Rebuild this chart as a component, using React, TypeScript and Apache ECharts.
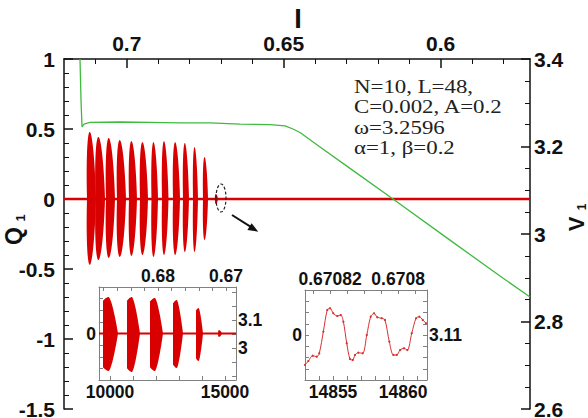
import React, { useEffect, useRef } from "react";
import * as echarts from "echarts";

const RED = "#d80000";
const GREEN = "#3fba3f";
const FRAME = "#808080";

// ---------- main plot (x = I, inverted) ----------
const I_MIN = 0.5715;
const I_MAX = 0.72;
const topMajorTicks = [0.6, 0.65, 0.7];
const topMinorTicks = [0.58, 0.59, 0.61, 0.62, 0.63, 0.64, 0.66, 0.67, 0.68, 0.69, 0.71];

// oscillation packets of Q1 in the main plot: start I, end I, upper and lower envelope
const lobeStartI = [0.71267, 0.70996, 0.70662, 0.70311, 0.69929, 0.69578, 0.69212, 0.68877, 0.68526, 0.68208, 0.67889, 0.6757, 0.67188];
const lobeEndI = [0.7098, 0.70693, 0.70375, 0.70024, 0.69674, 0.69323, 0.69004, 0.6867, 0.68303, 0.68017, 0.6773, 0.67411, 0.67093];
const lobeTop = [0.479, 0.443, 0.436, 0.421, 0.414, 0.407, 0.407, 0.414, 0.407, 0.4, 0.371, 0.3, 0.035];
const lobeBottom = [-0.47, -0.436, -0.421, -0.414, -0.407, -0.4, -0.414, -0.4, -0.4, -0.379, -0.379, -0.293, -0.035];

// V1 (green) vs I
const greenI = [0.7149, 0.71458, 0.71426, 0.71363, 0.71171, 0.70215, 0.69259, 0.68303, 0.67347, 0.66391, 0.65435, 0.64957, 0.64702, 0.64479, 0.63842, 0.62886, 0.61516, 0.597, 0.58106, 0.5715];
const greenV = [3.4, 3.306, 3.245, 3.251, 3.255, 3.256, 3.255, 3.254, 3.254, 3.251, 3.25, 3.247, 3.24, 3.232, 3.199, 3.15, 3.08, 2.986, 2.904, 2.856];

// ---------- inset 1 (x = time) ----------
const in1TMin = 9522;
const in1TMax = 15478;
const in1Start = [9696, 10739, 11739, 12739, 13739, 14700];
const in1End = [10348, 11304, 12304, 13174, 14043, 14870];
const in1Top = [0.392, 0.392, 0.382, 0.36, 0.274, 0.035];
const in1Bottom = [-0.403, -0.414, -0.403, -0.371, -0.296, -0.035];
const in1TimeLabels = [10000, 15000];
const in1TimeTicks = [10000, 11000, 12000, 13000, 14000, 15000];
const in1ILabels = [0.68, 0.67];
const in1ITicks = [0.67, 0.672, 0.674, 0.676, 0.678, 0.68, 0.682, 0.684, 0.686, 0.688];
const in1VLabels = [3, 3.1];
const in1VTicks = [2.9, 2.95, 3, 3.05, 3.1, 3.15, 3.2];

// ---------- inset 2 (x = time, zoom) ----------
const in2T = [14853.0, 14853.24, 14853.55, 14853.84, 14854.02, 14854.31, 14854.59, 14854.79, 14855.02, 14855.31, 14855.55, 14855.74, 14855.98, 14856.21, 14856.41, 14856.57, 14856.81, 14857.12, 14857.41, 14857.69, 14857.93, 14858.16, 14858.48, 14858.71, 14859.02, 14859.31, 14859.55, 14859.79, 14860.07, 14860.31, 14860.62, 14860.93, 14861.16, 14861.41, 14861.64];
const in2Q = [-0.333, -0.289, -0.23, -0.241, -0.203, 0.037, 0.278, 0.297, 0.241, 0.211, 0.222, 0.148, -0.092, -0.267, -0.278, -0.222, -0.197, -0.203, 0.0, 0.203, 0.241, 0.197, 0.186, 0.167, -0.074, -0.222, -0.222, -0.167, -0.148, -0.167, 0.019, 0.186, 0.203, 0.167, 0.13];
const in2TimeLabels = [14855, 14860];
const in2TimeTicks = [14854, 14855, 14856, 14857, 14858, 14859, 14860, 14861];
const in2ILabels = [0.67082, 0.6708];
const in2ITicks = [0.670795, 0.6708, 0.670805, 0.67081, 0.670815, 0.67082, 0.670825];
const in2VLabels = [3.11];
const in2VTicks = [3.1025, 3.105, 3.1075, 3.11, 3.1125, 3.115, 3.1175];
const insetQTicks = [-0.375, -0.25, -0.125, 0, 0.125, 0.25, 0.375];

const annotation = ["N=10, L=48,", "C=0.002, A=0.2", "\u03c9=3.2596", "\u03b1=1, \u03b2=0.2"];

const SANS = "'Liberation Sans', Arial, Helvetica, sans-serif";
const SERIF = "'Liberation Serif', 'Times New Roman', serif";

function ellipseLobe(params: any, api: any) {
  const s = api.value(0), e = api.value(1), top = api.value(2), bot = api.value(3);
  const a = api.coord([s, 0]);
  const b = api.coord([e, 0]);
  const t = api.coord([s, top]);
  const u = api.coord([s, bot]);
  const x0 = Math.min(a[0], b[0]);
  const x1 = Math.max(a[0], b[0]);
  const cy = a[1];
  const hT = cy - t[1];
  const hB = u[1] - cy;
  const cx = (x0 + x1) / 2;
  const rx = (x1 - x0) / 2;
  const shift = -0.4 * rx;
  const pts: number[][] = [];
  const N = 28;
  for (let k = 0; k <= N; k++) {
    const th = (Math.PI * k) / N;
    pts.push([cx - rx * Math.cos(th) + shift * Math.sin(th), cy - hT * Math.sin(th)]);
  }
  for (let k = 1; k < N; k++) {
    const th = (Math.PI * k) / N;
    pts.push([cx + rx * Math.cos(th) + shift * Math.sin(th), cy + hB * Math.sin(th)]);
  }
  return { type: "polygon", shape: { points: pts }, style: { fill: RED } };
}

function profile(uu: number) {
  if (uu < 0.38) return 0.9 + 0.1 * Math.sin((uu / 0.38) * (Math.PI / 2));
  return 1 - Math.pow((uu - 0.38) / 0.62, 1.5);
}

function dLobe(params: any, api: any) {
  const s = api.value(0), e = api.value(1), top = api.value(2), bot = api.value(3);
  const a = api.coord([s, 0]);
  const b = api.coord([e, 0]);
  const t = api.coord([s, top]);
  const u = api.coord([s, bot]);
  const x0 = Math.min(a[0], b[0]);
  const w = Math.abs(b[0] - a[0]);
  const cy = a[1];
  const hT = cy - t[1];
  const hB = u[1] - cy;
  const pts: number[][] = [];
  const N = 30;
  for (let k = 0; k <= N; k++) {
    const q = k / N;
    pts.push([x0 + q * w, cy - hT * profile(q)]);
  }
  for (let k = N - 1; k >= 0; k--) {
    const q = k / N;
    pts.push([x0 + q * w, cy + hB * profile(q)]);
  }
  return { type: "polygon", shape: { points: pts }, style: { fill: RED } };
}

const fmt = (d: number) => (v: number) => String(+Number(v).toFixed(d));

export default function App() {
  const ref = useRef<HTMLDivElement>(null);
  useEffect(() => {
    if (!ref.current) return;
    const chart = echarts.init(ref.current, null, { renderer: "svg" });

    const mainLobes = lobeStartI.map((s, i) => [s, lobeEndI[i], lobeTop[i], lobeBottom[i]]);
    const in1Lobes = in1Start.map((s, i) => [s, in1End[i], in1Top[i], in1Bottom[i]]);
    const green = greenI.map((x, i) => [x, greenV[i]]);
    const in2 = in2T.map((t, i) => [t, in2Q[i]]);

    const mainLabel = { fontFamily: SANS, fontWeight: "bold", fontSize: 21, color: "#111" };
    const insetLabel = { fontFamily: SANS, fontWeight: "bold", fontSize: 17.5, color: "#111" };
    const mainLine = { show: true, onZero: false, lineStyle: { color: "#111", width: 1.5 } };
    const insetLine = { show: true, onZero: false, lineStyle: { color: FRAME, width: 1 } };
    const insetTick = (vals: number[]) => ({ show: true, inside: true, length: 4, customValues: vals, lineStyle: { color: FRAME, width: 1 } });

    const option: any = {
      animation: false,
      backgroundColor: "#fff",
      grid: [
        { left: 64, top: 59, width: 466, height: 350, outerBoundsMode: "none" },
        { left: 99, top: 287, width: 137, height: 93, outerBoundsMode: "none" },
        { left: 305, top: 290, width: 122, height: 90, outerBoundsMode: "none" },
      ],
      xAxis: [
        {
          type: "value", gridIndex: 0, position: "top", min: I_MIN, max: I_MAX, inverse: true,
          axisLine: mainLine,
          axisTick: { show: true, inside: true, length: 9, customValues: topMajorTicks, lineStyle: { color: "#111", width: 1.5 } },
          axisLabel: { ...mainLabel, customValues: topMajorTicks, margin: 5, formatter: fmt(2) },
          splitLine: { show: false },
        },
        {
          type: "value", gridIndex: 0, position: "top", min: I_MIN, max: I_MAX, inverse: true,
          axisLine: { show: false, onZero: false },
          axisTick: { show: true, inside: true, length: 5, customValues: topMinorTicks, lineStyle: { color: "#111", width: 1 } },
          axisLabel: { show: false },
          splitLine: { show: false },
        },
        {
          type: "value", gridIndex: 1, position: "bottom", min: in1TMin, max: in1TMax,
          axisLine: insetLine, axisTick: insetTick(in1TimeTicks),
          axisLabel: { ...insetLabel, customValues: in1TimeLabels, margin: 3, formatter: fmt(0) },
          splitLine: { show: false },
        },
        {
          type: "value", gridIndex: 1, position: "top", min: 0.66853, max: 0.68868, inverse: true,
          axisLine: insetLine, axisTick: insetTick(in1ITicks),
          axisLabel: { ...insetLabel, customValues: in1ILabels, margin: 2, formatter: fmt(2) },
          splitLine: { show: false },
        },
        {
          type: "value", gridIndex: 2, position: "bottom", min: 14853, max: 14861.71,
          axisLine: insetLine, axisTick: insetTick(in2TimeTicks),
          axisLabel: { ...insetLabel, customValues: in2TimeLabels, margin: 3, formatter: fmt(0) },
          splitLine: { show: false },
        },
        {
          type: "value", gridIndex: 2, position: "top", min: 0.6707915, max: 0.6708274, inverse: true,
          axisLine: insetLine, axisTick: insetTick(in2ITicks),
          axisLabel: { ...insetLabel, customValues: in2ILabels, margin: 2, formatter: fmt(5) },
          splitLine: { show: false },
        },
      ],
      yAxis: [
        {
          type: "value", gridIndex: 0, position: "left", min: -1.5, max: 1, interval: 0.5,
          axisLine: mainLine,
          axisTick: { show: true, inside: true, length: 9, lineStyle: { color: "#111", width: 1.5 } },
          minorTick: { show: true, splitNumber: 5, length: 5, lineStyle: { color: "#111", width: 1 } },
          axisLabel: { ...mainLabel, margin: 9, formatter: fmt(2) },
          splitLine: { show: false },
        },
        {
          type: "value", gridIndex: 0, position: "right", min: 2.6, max: 3.4, interval: 0.2,
          axisLine: mainLine,
          axisTick: { show: true, inside: true, length: 9, lineStyle: { color: "#111", width: 1.5 } },
          minorTick: { show: true, splitNumber: 4, length: 5, lineStyle: { color: "#111", width: 1 } },
          axisLabel: { ...mainLabel, margin: 4, formatter: fmt(2) },
          splitLine: { show: false },
        },
        {
          type: "value", gridIndex: 1, position: "left", min: -0.5, max: 0.5,
          axisLine: insetLine, axisTick: insetTick(insetQTicks),
          axisLabel: { ...insetLabel, customValues: [0], margin: 3, formatter: fmt(2) },
          splitLine: { show: false },
        },
        {
          type: "value", gridIndex: 1, position: "right", min: 2.886, max: 3.218,
          axisLine: insetLine, axisTick: insetTick(in1VTicks),
          axisLabel: { ...insetLabel, customValues: in1VLabels, margin: 2, formatter: fmt(2) },
          splitLine: { show: false },
        },
        {
          type: "value", gridIndex: 2, position: "left", min: -0.5, max: 0.5,
          axisLine: insetLine, axisTick: insetTick(insetQTicks),
          axisLabel: { ...insetLabel, customValues: [0], margin: 3, formatter: fmt(2) },
          splitLine: { show: false },
        },
        {
          type: "value", gridIndex: 2, position: "right", min: 3.1, max: 3.12,
          axisLine: insetLine, axisTick: insetTick(in2VTicks),
          axisLabel: { ...insetLabel, customValues: in2VLabels, margin: 2, formatter: fmt(2) },
          splitLine: { show: false },
        },
      ],
      series: [
        {
          type: "line", xAxisIndex: 0, yAxisIndex: 0, data: [[I_MAX, 0], [I_MIN, 0]],
          symbol: "none", lineStyle: { color: RED, width: 2.5 }, z: 3,
        },
        {
          type: "custom", xAxisIndex: 0, yAxisIndex: 0, data: mainLobes,
          encode: { x: [0, 1], y: [2, 3] }, renderItem: ellipseLobe, clip: true, z: 4,
        },
        {
          type: "line", xAxisIndex: 0, yAxisIndex: 1, data: green,
          symbol: "none", lineStyle: { color: GREEN, width: 1.3 }, z: 5,
        },
        {
          type: "line", xAxisIndex: 2, yAxisIndex: 2, data: [[in1TMin, 0], [in1TMax, 0]],
          symbol: "none", lineStyle: { color: RED, width: 2 }, z: 3,
        },
        {
          type: "custom", xAxisIndex: 2, yAxisIndex: 2, data: in1Lobes,
          encode: { x: [0, 1], y: [2, 3] }, renderItem: dLobe, clip: true, z: 4,
        },
        {
          type: "line", xAxisIndex: 4, yAxisIndex: 4, data: in2, smooth: 0.3,
          symbol: "circle", symbolSize: 2.2, showSymbol: true,
          itemStyle: { color: "#d83030" }, lineStyle: { color: "#d83030", width: 1 }, z: 4,
        },
      ],
      graphic: [
        { type: "text", x: 298, y: 19, style: { text: "I", font: `bold 27px ${SANS}`, fill: "#111", align: "center", verticalAlign: "middle" } },
        { type: "text", x: 13.5, y: 236, rotation: Math.PI / 2, style: { text: "Q", font: `bold 23px ${SANS}`, fill: "#111", align: "center", verticalAlign: "middle" } },
        { type: "text", x: 20, y: 218, rotation: Math.PI / 2, style: { text: "1", font: `bold 13px ${SANS}`, fill: "#111", align: "center", verticalAlign: "middle" } },
        { type: "text", x: 576, y: 224, rotation: Math.PI / 2, style: { text: "V", font: `bold 22px ${SANS}`, fill: "#111", align: "center", verticalAlign: "middle" } },
        { type: "text", x: 582, y: 207, rotation: Math.PI / 2, style: { text: "1", font: `bold 12px ${SANS}`, fill: "#111", align: "center", verticalAlign: "middle" } },
        ...annotation.map((t, i) => ({
          type: "text", x: 354, y: 87 + i * 20.3, scaleX: 1.27,
          style: { text: t, font: `18px ${SERIF}`, fill: "#222", align: "left", verticalAlign: "middle" },
        })),
        { type: "ellipse", shape: { cx: 221, cy: 198, rx: 5, ry: 14 }, style: { fill: "none", stroke: "#222", lineWidth: 1.2, lineDash: [3, 2] }, z: 10 },
        { type: "line", shape: { x1: 232, y1: 215, x2: 252, y2: 227.6 }, style: { stroke: "#111", lineWidth: 2 }, z: 10 },
        { type: "polygon", shape: { points: [[258.3, 231.7], [247.4, 230.1], [251.6, 223.3]] }, style: { fill: "#111" }, z: 10 },
      ],
    };
    chart.setOption(option);
    return () => chart.dispose();
  }, []);

  return (
    <div
      ref={ref}
      style={{ position: "fixed", left: 0, top: 0, width: 588, height: 418, background: "#fff" }}
    />
  );
}
